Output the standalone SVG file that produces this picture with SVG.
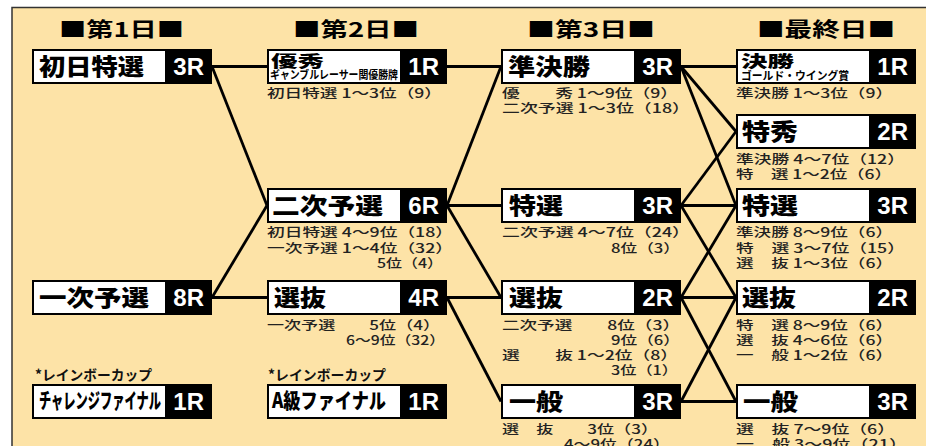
<svg xmlns="http://www.w3.org/2000/svg" width="926" height="446" viewBox="0 0 926 446">
<style>
.bg{fill:#fde3a7;stroke:#333;stroke-width:1.5}
.ob{fill:#000}
.ib{fill:#fff}
.h{font-family:"Noto Sans CJK JP",sans-serif;font-weight:700;font-size:20px;fill:#000}
.t{font-family:"Noto Sans CJK JP",sans-serif;font-weight:900;font-size:23px;fill:#000}
.t2{font-family:"Noto Sans CJK JP",sans-serif;font-weight:900;font-size:16px;fill:#000}
.t3{font-family:"Noto Sans CJK JP",sans-serif;font-weight:700;font-size:11.5px;fill:#000}
.tc{font-family:"Noto Sans CJK JP",sans-serif;font-weight:900;font-size:21px;fill:#000}
.r{font-family:"Liberation Sans",Arial,sans-serif;font-weight:700;font-size:24px;fill:#fff;text-anchor:end}
.s{font-family:"Noto Sans CJK JP",sans-serif;font-weight:500;font-size:12.5px;fill:#222}
.n{font-family:"Noto Sans CJK JP",sans-serif;font-weight:700;font-size:14px;fill:#111}
.c line{stroke:#000;stroke-width:2.8}
</style>
<rect x="0" y="0" width="926" height="446" fill="#fff"/>
<rect class="bg" x="12" y="7.5" width="930" height="460"/>

<g id="headers">
<text class="h" x="59" y="37" textLength="125" lengthAdjust="spacingAndGlyphs">■第1日■</text>
<text class="h" x="293" y="37" textLength="126" lengthAdjust="spacingAndGlyphs">■第2日■</text>
<text class="h" x="527" y="37" textLength="128" lengthAdjust="spacingAndGlyphs">■第3日■</text>
<text class="h" x="757" y="37" textLength="138" lengthAdjust="spacingAndGlyphs">■最終日■</text>
</g>

<g id="connectors" class="c">
<line x1="212" y1="66.5" x2="267" y2="66.5"/>
<line x1="212" y1="66.5" x2="267" y2="205.5"/>
<line x1="212" y1="297.5" x2="267" y2="205.5"/>
<line x1="212" y1="297.5" x2="267" y2="297.5"/>
<line x1="447" y1="66.5" x2="501" y2="66.5"/>
<line x1="447" y1="205.5" x2="501" y2="66.5"/>
<line x1="447" y1="205.5" x2="501" y2="205.5"/>
<line x1="447" y1="205.5" x2="501" y2="297.5"/>
<line x1="447" y1="297.5" x2="501" y2="297.5"/>
<line x1="447" y1="297.5" x2="501" y2="401.5"/>
<line x1="681" y1="66.5" x2="736" y2="66.5"/>
<line x1="681" y1="66.5" x2="736" y2="131.5"/>
<line x1="681" y1="66.5" x2="736" y2="205.5"/>
<line x1="681" y1="205.5" x2="736" y2="131.5"/>
<line x1="681" y1="205.5" x2="736" y2="205.5"/>
<line x1="681" y1="205.5" x2="736" y2="297.5"/>
<line x1="681" y1="297.5" x2="736" y2="205.5"/>
<line x1="681" y1="297.5" x2="736" y2="297.5"/>
<line x1="681" y1="297.5" x2="736" y2="401.5"/>
<line x1="681" y1="401.5" x2="736" y2="297.5"/>
<line x1="681" y1="401.5" x2="736" y2="401.5"/>
</g>

<!-- Day 1 -->
<g id="d1-shosen">
<rect class="ob" x="32" y="49" width="180" height="35"/><rect class="ib" x="34" y="51" width="131" height="31"/>
<text class="t" x="39" y="75" textLength="105" lengthAdjust="spacingAndGlyphs">初日特選</text>
<text class="r" x="204" y="75">3R</text>
</g>
<g id="d1-ichiji">
<rect class="ob" x="32" y="280" width="180" height="35"/><rect class="ib" x="34" y="282" width="131" height="31"/>
<text class="t" x="39" y="306" textLength="110" lengthAdjust="spacingAndGlyphs">一次予選</text>
<text class="r" x="204" y="306">8R</text>
</g>
<g id="d1-challenge">
<text class="n" x="35" y="380" textLength="117" lengthAdjust="spacingAndGlyphs">*レインボーカップ</text>
<rect class="ob" x="32" y="384" width="180" height="35"/><rect class="ib" x="34" y="386" width="131" height="31"/>
<text class="tc" transform="translate(39,408) scale(0.581,1)" x="0" y="0" textLength="210" lengthAdjust="spacingAndGlyphs">チャレンジファイナル</text>
<text class="r" x="204" y="410">1R</text>
</g>

<!-- Day 2 -->
<g id="d2-yushu">
<rect class="ob" x="267" y="49" width="180" height="35"/><rect class="ib" x="269" y="51" width="131" height="31"/>
<text class="t2" x="271" y="67" textLength="53" lengthAdjust="spacingAndGlyphs">優秀</text>
<text class="t3" transform="translate(270,79) scale(0.856,1)" x="0" y="0" textLength="149.5" lengthAdjust="spacingAndGlyphs">ギャンブルレーサー関優勝牌</text>
<text class="r" x="439" y="75">1R</text>
<text class="s" x="267" y="98" textLength="175" lengthAdjust="spacingAndGlyphs">初日特選 1～3位（9）</text>
</g>
<g id="d2-niji">
<rect class="ob" x="267" y="188" width="180" height="35"/><rect class="ib" x="269" y="190" width="131" height="31"/>
<text class="t" x="272" y="214" textLength="111" lengthAdjust="spacingAndGlyphs">二次予選</text>
<text class="r" x="439" y="214">6R</text>
<text class="s" x="267" y="237" textLength="186" lengthAdjust="spacingAndGlyphs">初日特選 4～9位（18）</text>
<text class="s" x="267" y="253" textLength="186" lengthAdjust="spacingAndGlyphs">一次予選 1～4位（32）</text>
<text class="s" x="377" y="268" textLength="66" lengthAdjust="spacingAndGlyphs">5位（4）</text>
</g>
<g id="d2-senbatsu">
<rect class="ob" x="267" y="280" width="180" height="35"/><rect class="ib" x="269" y="282" width="131" height="31"/>
<text class="t" x="274" y="306" textLength="52" lengthAdjust="spacingAndGlyphs">選抜</text>
<text class="r" x="439" y="306">4R</text>
<text class="s" x="267" y="330" textLength="173" lengthAdjust="spacingAndGlyphs">一次予選　　5位（4）</text>
<text class="s" x="346" y="345" textLength="99" lengthAdjust="spacingAndGlyphs">6～9位（32）</text>
</g>
<g id="d2-akyu">
<text class="n" x="268" y="380" textLength="118" lengthAdjust="spacingAndGlyphs">*レインボーカップ</text>
<rect class="ob" x="267" y="384" width="180" height="35"/><rect class="ib" x="269" y="386" width="131" height="31"/>
<text class="tc" transform="translate(272,408) scale(0.82,1)" x="0" y="0" textLength="139" lengthAdjust="spacingAndGlyphs">A級ファイナル</text>
<text class="r" x="439" y="410">1R</text>
</g>

<!-- Day 3 -->
<g id="d3-junkessho">
<rect class="ob" x="501" y="49" width="180" height="35"/><rect class="ib" x="503" y="51" width="131" height="31"/>
<text class="t" x="508" y="75" textLength="82" lengthAdjust="spacingAndGlyphs">準決勝</text>
<text class="r" x="673" y="75">3R</text>
<text class="s" x="502" y="98" textLength="176" lengthAdjust="spacingAndGlyphs">優　　秀 1～9位（9）</text>
<text class="s" x="502" y="113" textLength="188" lengthAdjust="spacingAndGlyphs">二次予選 1～3位（18）</text>
</g>
<g id="d3-tokusen">
<rect class="ob" x="501" y="188" width="180" height="35"/><rect class="ib" x="503" y="190" width="131" height="31"/>
<text class="t" x="509" y="214" textLength="54" lengthAdjust="spacingAndGlyphs">特選</text>
<text class="r" x="673" y="214">3R</text>
<text class="s" x="502" y="237" textLength="188" lengthAdjust="spacingAndGlyphs">二次予選 4～7位（24）</text>
<text class="s" x="611" y="253" textLength="69" lengthAdjust="spacingAndGlyphs">8位（3）</text>
</g>
<g id="d3-senbatsu">
<rect class="ob" x="501" y="280" width="180" height="35"/><rect class="ib" x="503" y="282" width="131" height="31"/>
<text class="t" x="509" y="306" textLength="54" lengthAdjust="spacingAndGlyphs">選抜</text>
<text class="r" x="673" y="306">2R</text>
<text class="s" x="502" y="330" textLength="178" lengthAdjust="spacingAndGlyphs">二次予選　　8位（3）</text>
<text class="s" x="611" y="345" textLength="69" lengthAdjust="spacingAndGlyphs">9位（6）</text>
<text class="s" x="502" y="360" textLength="176" lengthAdjust="spacingAndGlyphs">選　　抜 1～2位（8）</text>
<text class="s" x="611" y="375" textLength="67" lengthAdjust="spacingAndGlyphs">3位（1）</text>
</g>
<g id="d3-ippan">
<rect class="ob" x="501" y="384" width="180" height="35"/><rect class="ib" x="503" y="386" width="131" height="31"/>
<text class="t" x="509" y="410" textLength="54" lengthAdjust="spacingAndGlyphs">一般</text>
<text class="r" x="673" y="410">3R</text>
<text class="s" x="502" y="434" textLength="156" lengthAdjust="spacingAndGlyphs">選　抜　　3位（3）</text>
<text class="s" x="564" y="449" textLength="106" lengthAdjust="spacingAndGlyphs">4～9位（24）</text>
</g>

<!-- Final day -->
<g id="f-kessho">
<rect class="ob" x="736" y="49" width="180" height="35"/><rect class="ib" x="738" y="51" width="131" height="31"/>
<text class="t2" x="741" y="67" textLength="53" lengthAdjust="spacingAndGlyphs">決勝</text>
<text class="t3" transform="translate(741,79.5) scale(0.94,1)" x="0" y="0" textLength="115" lengthAdjust="spacingAndGlyphs">ゴールド・ウイング賞</text>
<text class="r" x="908" y="75">1R</text>
<text class="s" x="736" y="98" textLength="157" lengthAdjust="spacingAndGlyphs">準決勝 1～3位（9）</text>
</g>
<g id="f-tokushu">
<rect class="ob" x="736" y="114" width="180" height="35"/><rect class="ib" x="738" y="116" width="131" height="31"/>
<text class="t" x="742" y="140" textLength="56" lengthAdjust="spacingAndGlyphs">特秀</text>
<text class="r" x="908" y="140">2R</text>
<text class="s" x="736" y="164" textLength="169" lengthAdjust="spacingAndGlyphs">準決勝 4～7位（12）</text>
<text class="s" x="736" y="179" textLength="156" lengthAdjust="spacingAndGlyphs">特　選 1～2位（6）</text>
</g>
<g id="f-tokusen">
<rect class="ob" x="736" y="188" width="180" height="35"/><rect class="ib" x="738" y="190" width="131" height="31"/>
<text class="t" x="742" y="214" textLength="56" lengthAdjust="spacingAndGlyphs">特選</text>
<text class="r" x="908" y="214">3R</text>
<text class="s" x="736" y="237" textLength="157" lengthAdjust="spacingAndGlyphs">準決勝 8～9位（6）</text>
<text class="s" x="736" y="253" textLength="169" lengthAdjust="spacingAndGlyphs">特　選 3～7位（15）</text>
<text class="s" x="736" y="268" textLength="157" lengthAdjust="spacingAndGlyphs">選　抜 1～3位（6）</text>
</g>
<g id="f-senbatsu">
<rect class="ob" x="736" y="280" width="180" height="35"/><rect class="ib" x="738" y="282" width="131" height="31"/>
<text class="t" x="742" y="306" textLength="54" lengthAdjust="spacingAndGlyphs">選抜</text>
<text class="r" x="908" y="306">2R</text>
<text class="s" x="736" y="330" textLength="157" lengthAdjust="spacingAndGlyphs">特　選 8～9位（6）</text>
<text class="s" x="736" y="345" textLength="157" lengthAdjust="spacingAndGlyphs">選　抜 4～6位（6）</text>
<text class="s" x="736" y="360" textLength="157" lengthAdjust="spacingAndGlyphs">一　般 1～2位（6）</text>
</g>
<g id="f-ippan">
<rect class="ob" x="736" y="384" width="180" height="35"/><rect class="ib" x="738" y="386" width="131" height="31"/>
<text class="t" x="743" y="410" textLength="55" lengthAdjust="spacingAndGlyphs">一般</text>
<text class="r" x="908" y="410">3R</text>
<text class="s" x="736" y="434" textLength="159" lengthAdjust="spacingAndGlyphs">選　抜 7～9位（6）</text>
<text class="s" x="736" y="449" textLength="171" lengthAdjust="spacingAndGlyphs">一　般 3～9位（21）</text>
</g>
</svg>
